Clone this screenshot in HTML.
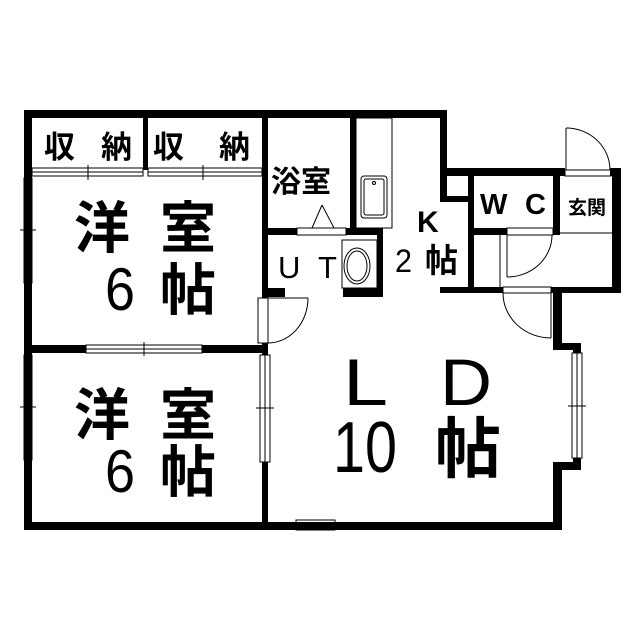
<!DOCTYPE html>
<html><head><meta charset="utf-8"><style>
html,body{margin:0;padding:0;background:#fff;}
svg{display:block;}
text{font-family:"Liberation Sans","Noto Sans CJK JP",sans-serif;fill:#000;font-weight:bold;}
.c{font-family:"Noto Sans CJK JP","Liberation Sans",sans-serif;}
.n{font-weight:normal;}
</style></head><body>
<svg width="640" height="640" viewBox="0 0 640 640" xmlns="http://www.w3.org/2000/svg">
<g fill="#000">
<rect x="24" y="110" width="423" height="8"/>
<rect x="24" y="110" width="8" height="420"/>
<rect x="24" y="522" width="538" height="8"/>
<rect x="143" y="118" width="5" height="52"/>
<rect x="262" y="110" width="6" height="188"/>
<rect x="262" y="343" width="6" height="12"/>
<rect x="262" y="462" width="6" height="62"/>
<rect x="24" y="345" width="62" height="8"/>
<rect x="202" y="345" width="66" height="8"/>
<rect x="350" y="110" width="6" height="125"/>
<rect x="262" y="228" width="35" height="7"/>
<rect x="346" y="228" width="37" height="7"/>
<rect x="377" y="228" width="6" height="69"/>
<rect x="262" y="288" width="23" height="9"/>
<rect x="343" y="288" width="40" height="9"/>
<rect x="440" y="110" width="7" height="92"/>
<rect x="440" y="196" width="33" height="6"/>
<rect x="440" y="168" width="125" height="8"/>
<rect x="610" y="168" width="11" height="8"/>
<rect x="612" y="168" width="9" height="125"/>
<rect x="468" y="168" width="6" height="125"/>
<rect x="468" y="228" width="39" height="7"/>
<rect x="553" y="168" width="7" height="67"/>
<rect x="440" y="287" width="63" height="6"/>
<rect x="551" y="287" width="70" height="6"/>
<rect x="553" y="287" width="9" height="63"/>
<rect x="553" y="343" width="28" height="7"/>
<rect x="573" y="343" width="8" height="10"/>
<rect x="573" y="458" width="8" height="12"/>
<rect x="553" y="462" width="28" height="8"/>
<rect x="553" y="462" width="9" height="68"/>
</g>
<g fill="none" stroke="#000" stroke-width="1">
<rect x="32" y="168" width="111" height="8"/><line x1="32" y1="172" x2="143" y2="172"/>
<line x1="88" y1="165" x2="88" y2="180"/>
<rect x="148" y="168" width="114" height="8"/><line x1="148" y1="172" x2="262" y2="172"/>
<line x1="203" y1="165" x2="203" y2="180"/>
<rect x="24" y="178" width="8" height="105"/><line x1="28" y1="178" x2="28" y2="283"/><line x1="20" y1="230" x2="36" y2="230"/>
<rect x="24" y="355" width="8" height="105"/><line x1="28" y1="355" x2="28" y2="460"/><line x1="20" y1="407" x2="36" y2="407"/>
<rect x="86" y="345" width="116" height="8"/><line x1="86" y1="349" x2="202" y2="349"/><line x1="144" y1="342" x2="144" y2="356"/>
<rect x="260" y="355" width="10" height="107"/><line x1="265" y1="355" x2="265" y2="462"/><line x1="256" y1="408" x2="274" y2="408"/>
<rect x="296" y="520" width="39" height="10"/><line x1="296" y1="525" x2="335" y2="525"/>
<rect x="572" y="353" width="10" height="105"/><line x1="577" y1="353" x2="577" y2="458"/><line x1="568" y1="406" x2="586" y2="406"/>
<rect x="297" y="228" width="49" height="7"/>
<polyline points="322,205 312,228 334,228 322,205"/>
<rect x="356" y="118" width="36" height="110"/>
<rect x="361" y="176" width="26" height="42" rx="3"/>
<rect x="364" y="179" width="20" height="36" rx="2"/>
<circle cx="374" cy="183" r="1.5"/>
<rect x="342" y="240" width="35" height="48"/>
<ellipse cx="357" cy="266" rx="13" ry="18"/>
<ellipse cx="357" cy="266" rx="10" ry="15"/>
<rect x="258" y="298" width="10" height="45"/>
<line x1="268" y1="298" x2="308" y2="298"/>
<path d="M308,298 A40,45 0 0 1 268,343"/>
<rect x="565" y="170" width="46" height="6"/>
<line x1="566" y1="128" x2="566" y2="170"/>
<path d="M566,128 A44,42 0 0 1 610,170"/>
<rect x="507" y="228" width="46" height="7"/>
<line x1="507" y1="235" x2="507" y2="277"/>
<path d="M507,277 A45,42 0 0 0 552,235"/>
<line x1="500" y1="235" x2="500" y2="287"/>
<line x1="560" y1="233" x2="612" y2="233"/>
<rect x="503" y="287" width="48" height="6"/>
<line x1="551" y1="293" x2="551" y2="338"/>
<path d="M503,293 A48,45 0 0 0 551,338"/>
</g>
<g>
<text class="c" x="44" y="158" font-size="31">収</text>
<text class="c" x="101" y="158" font-size="31">納</text>
<text class="c" x="153" y="158" font-size="31">収</text>
<text class="c" x="219" y="158" font-size="31">納</text>
<text class="c" x="271" y="192" font-size="30">浴室</text>
<text x="278" y="278" font-size="31" class="n">U</text>
<text x="318" y="278" font-size="31" class="n">T</text>
<text x="417" y="232" font-size="30">K</text>
<text x="395" y="272" font-size="32" class="n" textLength="17" lengthAdjust="spacingAndGlyphs">2</text>
<text class="c" x="425" y="272" font-size="33">帖</text>
<text x="480" y="214" font-size="29" textLength="66" lengthAdjust="spacing">W C</text>
<text class="c" x="568" y="214" font-size="19">玄関</text>
<text class="c" x="74" y="248" font-size="56">洋</text>
<text class="c" x="160" y="248" font-size="56">室</text>
<text x="105" y="310" font-size="60" class="n" textLength="30" lengthAdjust="spacingAndGlyphs">6</text>
<text class="c" x="160" y="310" font-size="56">帖</text>
<text class="c" x="74" y="435" font-size="56">洋</text>
<text class="c" x="160" y="435" font-size="56">室</text>
<text x="105" y="492" font-size="60" class="n" textLength="30" lengthAdjust="spacingAndGlyphs">6</text>
<text class="c" x="160" y="492" font-size="56">帖</text>
<text x="343" y="405" font-size="66" class="n" textLength="45" lengthAdjust="spacingAndGlyphs">L</text>
<text x="440" y="405" font-size="66" class="n" textLength="52" lengthAdjust="spacingAndGlyphs">D</text>
<text x="333" y="472" font-size="72" class="n" textLength="64" lengthAdjust="spacingAndGlyphs">10</text>
<text class="c" x="435" y="472" font-size="66">帖</text>
</g>
</svg>
</body></html>
